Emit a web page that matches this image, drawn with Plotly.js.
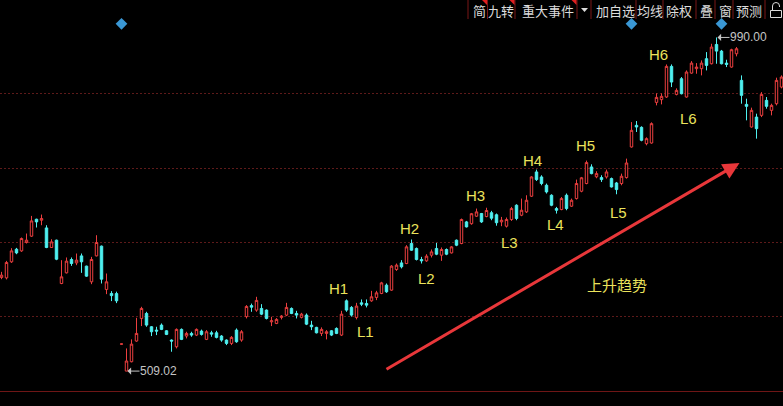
<!DOCTYPE html>
<html>
<head>
<meta charset="utf-8">
<script src="https://cdn.plot.ly/plotly-3.0.1.min.js"></script>
<style>
  html, body { margin: 0; padding: 0; background: #000; }
  #chart { width: 783px; height: 406px; }
</style>
</head>
<body>
<div id="chart"></div>
<script>
// Daily OHLC prices, one entry per trading day
const opens = [
  644.0, 643.4, 666.5, 684.7, 682.3, 694.4, 703.5, 727.9, 726.5, 715.4,
  687.2, 697.7, 635.3, 650.6, 669.9, 665.0, 675.1, 660.3, 637.7, 675.1,
  689.1, 626.7, 620.9, 620.7, 547.9, 509.02, 522.5, 552.3, 584.9, 592.1,
  572.9, 568.1, 575.3, 567.1, 553.7, 544.1, 569.1, 559.5, 563.3, 560.9,
  566.7, 554.7, 564.2, 564.2, 559.5, 553.7, 548.9, 568.1, 553.7, 587.5,
  603.4, 596.9, 599.3, 596.9, 580.0, 577.7, 586.4, 589.7, 599.3, 592.1,
  586.4, 589.7, 575.3, 572.0, 563.3, 563.3, 567.1, 570.5, 560.9, 610.3,
  600.8, 586.4, 607.4, 606.5, 610.3, 615.2, 620.9, 632.9, 625.7, 655.5,
  665.0, 664.1, 692.9, 685.8, 669.9, 667.9, 676.1, 685.8, 676.1, 684.3,
  679.4, 697.7, 692.9, 724.1, 721.5, 732.3, 736.2, 731.8, 737.3, 734.4,
  724.1, 717.9, 727.5, 748.1, 733.7, 738.5, 761.1, 796.1, 788.9, 776.9,
  762.5, 743.3, 741.9, 762.5, 746.7, 757.7, 768.3, 779.4, 803.3, 789.1,
  788.0, 788.9, 786.5, 780.2, 779.4, 788.0, 832.1, 863.3, 860.4, 836.9,
  837.8, 896.4, 900.3, 904.1, 948.3, 907.9, 930.5, 904.1, 938.6, 945.0,
  945.0, 959.4, 952.1, 979.9, 970.3, 953.0, 947.3, 966.5, 928.1, 893.5,
  860.9, 875.2, 877.7, 899.3, 884.9, 894.5, 918.5
];
const highs = [
  652.1, 667.9, 686.2, 686.6, 701.6, 707.3, 732.7, 728.7, 734.7, 719.3,
  699.1, 698.5, 668.9, 672.8, 672.8, 678.5, 678.5, 661.0, 673.7, 704.9,
  690.0, 649.7, 624.3, 623.5, 548.5, 541.7, 554.7, 585.8, 601.7, 594.5,
  573.9, 572.9, 577.7, 568.1, 554.7, 570.5, 570.5, 565.7, 565.7, 570.5,
  568.8, 568.1, 567.1, 567.1, 560.9, 554.7, 559.5, 570.5, 568.1, 604.1,
  606.3, 616.1, 605.5, 597.9, 587.3, 585.4, 589.7, 607.4, 600.8, 595.9,
  593.0, 592.1, 581.5, 572.9, 572.0, 568.1, 568.1, 572.0, 595.9, 612.3,
  602.7, 607.4, 612.3, 612.3, 624.7, 624.7, 637.7, 635.3, 661.7, 664.1,
  668.9, 690.5, 698.7, 687.2, 673.7, 677.5, 684.3, 693.8, 687.2, 685.8,
  689.1, 698.7, 728.9, 725.5, 737.0, 743.3, 737.0, 744.5, 740.0, 736.2,
  731.3, 730.4, 745.7, 749.5, 757.7, 762.5, 789.9, 799.5, 791.3, 779.3,
  763.9, 745.7, 760.0, 765.0, 757.7, 785.1, 788.9, 812.5, 807.1, 797.1,
  791.3, 799.5, 788.0, 781.7, 793.7, 815.3, 868.0, 869.5, 861.9, 846.0,
  867.6, 909.4, 909.4, 951.1, 951.1, 916.6, 932.9, 942.5, 955.9, 953.0,
  956.9, 968.9, 980.9, 990.00, 972.0, 957.9, 973.7, 976.1, 935.3, 901.7,
  888.8, 880.1, 911.2, 904.1, 894.5, 932.0, 935.3
];
const lows = [
  641.5, 641.1, 665.0, 677.5, 680.9, 692.9, 702.5, 716.0, 719.3, 686.2,
  686.5, 668.9, 634.3, 649.8, 660.7, 661.7, 650.6, 644.9, 634.3, 674.3,
  635.3, 619.9, 609.9, 607.0, 547.3, 509.02, 521.6, 551.3, 573.9, 572.9,
  559.5, 560.9, 568.1, 560.9, 536.9, 541.7, 553.7, 556.1, 558.5, 559.5,
  560.2, 553.7, 558.5, 556.1, 551.3, 546.5, 546.5, 549.8, 551.3, 584.9,
  594.5, 594.5, 589.7, 583.5, 573.9, 576.7, 583.5, 588.3, 591.1, 584.9,
  584.9, 575.3, 568.1, 563.3, 559.5, 554.7, 559.5, 562.3, 559.5, 594.5,
  587.5, 583.5, 602.7, 600.8, 608.9, 611.3, 619.9, 621.8, 624.7, 653.5,
  657.0, 663.1, 682.3, 668.5, 664.1, 666.5, 672.8, 676.1, 667.9, 676.1,
  678.5, 689.1, 691.9, 716.0, 720.0, 731.3, 722.6, 730.8, 726.5, 718.6,
  717.9, 716.0, 725.5, 726.5, 732.3, 737.0, 760.1, 783.1, 776.9, 765.0,
  746.7, 736.1, 740.9, 740.9, 745.7, 756.3, 766.8, 778.3, 792.7, 787.0,
  781.7, 786.5, 773.6, 763.9, 776.9, 786.5, 831.2, 853.7, 840.3, 834.5,
  836.9, 892.1, 893.5, 902.9, 918.5, 906.5, 907.9, 903.2, 937.7, 937.7,
  935.3, 942.5, 951.1, 952.1, 951.1, 947.3, 946.4, 962.7, 894.5, 870.5,
  860.0, 844.1, 875.2, 887.3, 877.7, 892.1, 916.6
];
const closes = [
  647.3, 665.6, 682.3, 679.4, 700.1, 697.7, 725.5, 724.1, 728.9, 687.2,
  695.3, 670.3, 644.9, 667.5, 664.1, 668.9, 666.5, 645.9, 669.9, 694.4,
  641.5, 637.7, 617.8, 610.3, 548.1, 523.5, 547.9, 563.3, 599.3, 575.3,
  565.7, 566.7, 569.1, 561.9, 552.3, 569.1, 554.7, 563.3, 560.9, 569.1,
  561.9, 565.7, 562.3, 557.6, 553.7, 548.9, 557.6, 551.3, 565.7, 602.2,
  601.2, 610.9, 591.1, 584.9, 581.5, 583.5, 588.3, 600.8, 592.1, 589.7,
  591.1, 576.7, 572.9, 564.2, 569.1, 565.7, 560.9, 563.3, 591.1, 596.9,
  589.7, 602.7, 605.5, 604.1, 616.1, 621.8, 636.2, 623.3, 660.3, 661.7,
  659.3, 688.1, 683.3, 669.9, 667.9, 674.7, 680.9, 677.5, 684.3, 677.5,
  688.1, 690.5, 727.5, 716.9, 735.9, 738.5, 724.1, 740.5, 729.4, 722.9,
  726.5, 727.5, 743.3, 729.0, 740.9, 755.3, 788.9, 785.1, 779.4, 767.3,
  748.1, 740.9, 757.7, 743.3, 755.3, 779.4, 787.7, 809.6, 793.7, 793.7,
  785.1, 796.1, 774.5, 770.7, 789.9, 809.0, 856.1, 860.9, 841.7, 844.1,
  865.7, 903.6, 905.1, 948.3, 925.7, 913.7, 908.9, 940.1, 953.0, 947.3,
  953.0, 949.7, 976.1, 970.3, 952.1, 951.1, 972.3, 973.7, 906.5, 890.7,
  884.9, 858.5, 907.9, 890.7, 892.1, 928.1, 932.9
];
const days = opens.map((_, i) => i);

// Days carrying an event flag (blue diamonds along the top)
const eventDays = [24, 126, 144];

// Swing point labels
const swingNames = ['H1', 'L1', 'H2', 'L2', 'H3', 'L3', 'H4', 'L4', 'H5', 'L5', 'H6', 'L6'];
const trendText = '上升趋势';

// Toolbar button captions
const toolbarNames = ['简', '九转', '重大事件', '加自选', '均线', '除权', '叠', '窗', '预测'];

// ---- page geometry helpers (pixels -> paper fractions) ----
const W = 783, H = 406, MT = 19, MB = 15;
const paperX = p => p / W;
const paperY = p => (H - MB - p) / (H - MT - MB);

const RED = '#ec3f3f';
const CYAN = '#4ff0f0';
const YELLOW = '#ebe35c';
const LATIN = 'Liberation Sans, Arial, sans-serif';
const CJK = 'Noto Sans CJK SC, sans-serif';

const candles = {
  type: 'candlestick',
  x: days, open: opens, high: highs, low: lows, close: closes,
  increasing: { line: { color: RED, width: 1 }, fillcolor: '#000000' },
  decreasing: { line: { color: CYAN, width: 1 }, fillcolor: CYAN },
  whiskerwidth: 0,
  hoverinfo: 'skip'
};

const yMin = 480.3, yMax = 1016.6, yStep = 107.12;

const events = {
  type: 'scatter', mode: 'markers',
  x: eventDays, y: eventDays.map(() => yMax - 6.9),
  marker: { symbol: 'diamond', size: 9, color: '#3a97d4' },
  cliponaxis: false, hoverinfo: 'skip'
};

const annotations = [];

// swing labels placed beside their turning points
const swingPos = [
  [67.3, 627.9], [72.8, 566.7], [81.6, 714.3], [84.9, 643.0],
  [94.8, 761.8], [101.6, 694.8], [106.2, 812.2], [110.8, 720.0],
  [116.8, 834.5], [123.4, 738.0], [131.3, 965.5], [137.4, 872.7]
];
swingNames.forEach((name, k) => {
  annotations.push({
    x: swingPos[k][0], y: swingPos[k][1], xref: 'x', yref: 'y',
    text: name, showarrow: false, xanchor: 'center', yanchor: 'middle',
    font: { family: LATIN, size: 15, color: YELLOW }
  });
});

annotations.push({
  x: 123.1, y: 634.3, xref: 'x', yref: 'y', text: trendText, showarrow: false,
  xanchor: 'center', yanchor: 'middle',
  font: { family: CJK, size: 15, color: YELLOW }
});

// trend arrow
annotations.push({
  x: 147.6, y: 809.0, xref: 'x', yref: 'y',
  ax: 76.7, ay: 510.5, axref: 'x', ayref: 'y',
  text: '', showarrow: true, arrowhead: 2, arrowsize: 1.1, arrowwidth: 3,
  arrowcolor: '#e8373a', standoff: 0
});

// extreme price markers: value text with a short pointer back to the candle
const lowIdx = lows.indexOf(Math.min(...lows));
const highIdx = highs.indexOf(Math.max(...highs));
[[lowIdx, lows[lowIdx]], [highIdx, highs[highIdx]]].forEach(([i, v]) => {
  annotations.push({
    x: i, y: v, xref: 'x', yref: 'y', text: v.toFixed(2),
    showarrow: true, ax: 32, ay: 0, arrowhead: 1, arrowsize: 1.2, arrowwidth: 1,
    arrowcolor: '#c4c4c4', standoff: 1, borderpad: 0,
    font: { family: LATIN, size: 12, color: '#c4c4c4' }
  });
});

// toolbar captions
const toolbarCenters = [479, 501, 548.3, 615, 650, 679, 706, 725, 749];
toolbarNames.forEach((name, k) => {
  annotations.push({
    x: paperX(toolbarCenters[k]), y: paperY(10), xref: 'paper', yref: 'paper',
    text: name, showarrow: false, xanchor: 'center', yanchor: 'middle',
    font: { family: CJK, size: 13, color: '#dcdcdc' }
  });
});

const shapes = [];
// toolbar separators
[468, 487.5, 515, 577, 591, 636, 663, 696, 715, 733, 765].forEach(px => {
  shapes.push({
    type: 'line', xref: 'paper', yref: 'paper',
    x0: paperX(px), x1: paperX(px), y0: paperY(0), y1: paperY(19),
    line: { color: '#7a1616', width: 1 }
  });
});
// red corner flags on the first buttons
[487, 514.5, 576.5].forEach(px => {
  shapes.push({
    type: 'path', xref: 'paper', yref: 'paper',
    path: `M${paperX(px - 5)},${paperY(0)} L${paperX(px)},${paperY(0)} L${paperX(px)},${paperY(5)} Z`,
    fillcolor: '#e02020', line: { width: 0 }
  });
});
// dropdown triangle
shapes.push({
  type: 'path', xref: 'paper', yref: 'paper',
  path: `M${paperX(581)},${paperY(8)} L${paperX(588)},${paperY(8)} L${paperX(584.5)},${paperY(12)} Z`,
  fillcolor: '#dcdcdc', line: { width: 0 }
});
// open padlock
shapes.push({
  type: 'rect', xref: 'paper', yref: 'paper',
  x0: paperX(770.5), x1: paperX(781.5), y0: paperY(17.5), y1: paperY(10.5),
  line: { color: '#dcdcdc', width: 1 }, fillcolor: 'rgba(0,0,0,0)'
});
shapes.push({
  type: 'path', xref: 'paper', yref: 'paper',
  path: `M${paperX(772.5)},${paperY(10.5)} L${paperX(772.5)},${paperY(6)} ` +
        `Q${paperX(772.5)},${paperY(2.5)} ${paperX(776)},${paperY(2.5)} ` +
        `Q${paperX(779.5)},${paperY(2.5)} ${paperX(779.5)},${paperY(6)} L${paperX(779.5)},${paperY(7)}`,
  line: { color: '#dcdcdc', width: 1 }
});

const layout = {
  width: W, height: H,
  margin: { l: 0, r: 0, t: MT, b: MB, pad: 0 },
  paper_bgcolor: '#000000', plot_bgcolor: '#000000',
  showlegend: false,
  xaxis: {
    range: [-0.3, 156.3], showgrid: false, zeroline: false,
    showticklabels: false, ticks: '', showline: true,
    linecolor: '#6e1616', linewidth: 1,
    rangeslider: { visible: false }, fixedrange: true
  },
  yaxis: {
    range: [yMin, yMax], tickmode: 'linear', tick0: yMin, dtick: yStep,
    showgrid: true, gridcolor: '#5e1a1a', griddash: '2px,2px', gridwidth: 1,
    zeroline: false, showticklabels: false, ticks: '', showline: false,
    fixedrange: true
  },
  annotations: annotations,
  shapes: shapes
};

Plotly.newPlot('chart', [candles, events], layout, { staticPlot: true, displayModeBar: false });
</script>
</body>
</html>
